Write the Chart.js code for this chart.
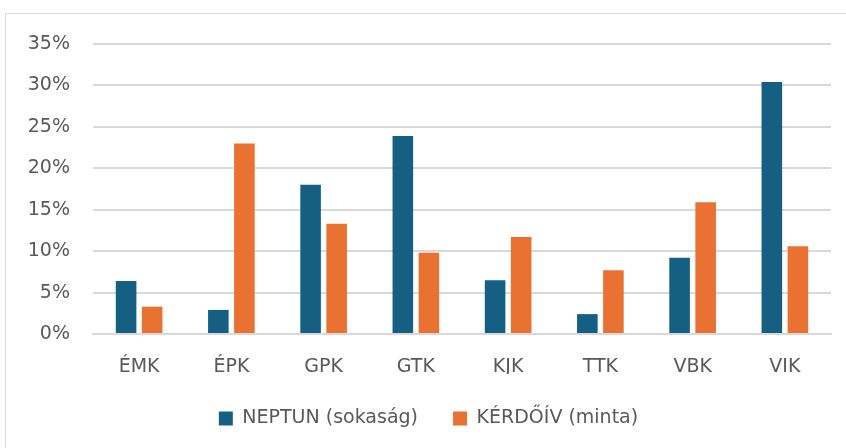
<!DOCTYPE html>
<html>
<head>
<meta charset="utf-8">
<script src="https://cdn.jsdelivr.net/npm/chart.js@4.4.1/dist/chart.umd.min.js"></script>
<style>
  html, body { margin: 0; padding: 0; background: #fff; }
  #wrap { position: relative; width: 846px; height: 448px; overflow: hidden; }
  #frame { position: absolute; left: 5px; top: 13px; width: 900px; height: 500px; border: 1px solid #d9d9d9; }
  #chart { position: absolute; left: 0; top: 0; }
</style>
</head>
<body>
<div id="wrap">
  <div id="frame"></div>
  <canvas id="chart" width="846" height="448"></canvas>
</div>
<script>
const categories = ['ÉMK', 'ÉPK', 'GPK', 'GTK', 'KJK', 'TTK', 'VBK', 'VIK'];
const neptun = [6.4, 2.9, 18.0, 23.9, 6.5, 2.4, 9.2, 30.4];
const kerdoiv = [3.3, 23.0, 13.3, 9.8, 11.7, 7.7, 15.9, 10.6];
const seriesNames = ['NEPTUN (sokaság)', 'KÉRDŐÍV (minta)'];
const yMax = 35;
const yStep = 5;

const font = "'DejaVu Sans', sans-serif";
const fontSize = 19;
const textColor = '#595959';

new Chart(document.getElementById('chart'), {
  type: 'bar',
  data: {
    labels: categories,
    datasets: [
      { label: seriesNames[0], data: neptun, backgroundColor: '#156082' },
      { label: seriesNames[1], data: kerdoiv, backgroundColor: '#E97132' }
    ]
  },
  options: {
    responsive: false,
    animation: false,
    categoryPercentage: 0.565,
    barPercentage: 0.79,
    layout: { padding: { left: 26, right: 15, top: 44, bottom: 10 } },
    plugins: {
      tooltip: { enabled: false },
      legend: {
        position: 'bottom',
        labels: {
          color: textColor,
          font: { family: font, size: fontSize },
          boxWidth: 14,
          boxHeight: 14,
          padding: 35
        }
      }
    },
    scales: {
      x: {
        grid: { display: false },
        border: { color: '#d9d9d9', width: 2 },
        ticks: { color: textColor, font: { family: font, size: fontSize }, padding: 14 },
        afterFit: s => { s.height = 40; }
      },
      y: {
        min: 0,
        max: yMax,
        border: { display: false },
        grid: { color: '#d9d9d9', lineWidth: 2, drawTicks: false },
        ticks: {
          stepSize: yStep,
          color: textColor,
          font: { family: font, size: fontSize },
          padding: 23,
          callback: v => v + '%'
        },
        afterFit: s => { s.width = 67; }
      }
    }
  }
});
</script>
</body>
</html>
